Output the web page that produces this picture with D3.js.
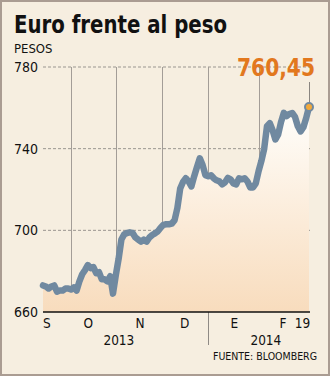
<!DOCTYPE html>
<html>
<head>
<meta charset="utf-8">
<script src="https://cdn.jsdelivr.net/npm/d3@7"></script>
<style>
  html, body { margin: 0; padding: 0; background: #f6eee0; }
  svg { display: block; }
  text { font-family: "DejaVu Sans Condensed", "Liberation Sans Narrow", "DejaVu Sans", sans-serif; }
</style>
</head>
<body>
<svg id="chart" width="330" height="376"></svg>
<script>
// Euro vs Mexican peso, daily close (pesos per euro)
const euroPeso = [
  673, 672.5, 671.5, 672.5, 673, 670, 670.5, 670.5, 671.5, 671.5,
  671, 672, 670.5, 675, 678.5, 680.5, 683, 681.5, 682, 679,
  679.5, 676, 676, 675, 677.5, 669, 678, 686, 695.5, 698,
  698.7, 699, 698.7, 696.5, 695.5, 694.5, 695.5, 694.5, 696.5, 697.7,
  698.5, 699.5, 701.3, 702.7, 703, 703, 703.3, 705, 711, 720.5,
  723.7, 725.5, 724, 721.5, 726.5, 731, 735.3, 732, 727, 726.5,
  727, 725.5, 724.5, 724, 722.5, 723.5, 725.7, 725, 723, 722.5,
  725.5, 725, 725.5, 724, 721, 721, 723, 729, 734, 740,
  751, 752.5, 749, 744.5, 747, 753, 757.5, 756, 757, 757.5,
  755.6, 751, 748.5, 750.5, 755, 760.45
];

// Session index where each month begins (Oct, Nov, Dec, Jan, Feb)
const monthStarts = [10, 26, 42.5, 59, 77.1];
// Month labels and the session index they sit over
const monthLabels = ["S", "O", "N", "D", "E", "F", "19"];
const monthLabelPos = [1.4, 16.2, 34.7, 50.6, 68.3, 85.7, 92.7];
// Year labels
const yearLabels = ["2013", "2014"];
const yearLabelPos = [27.1, 79.6];
const yearBreak = 59;

const yTicks = [660, 700, 740, 780];
const lastLabel = "760,45";

const svg = d3.select("#chart");
const W = 330, H = 376;

// frame
svg.append("rect")
  .attr("x", 1).attr("y", 1).attr("width", W - 2).attr("height", H - 2)
  .attr("fill", "#f6eee0").attr("stroke", "#aa9c92").attr("stroke-width", 2);

const x = d3.scaleLinear().domain([0, euroPeso.length - 1]).range([43, 309]);
const y = d3.scaleLinear().domain([660, 780]).range([312, 67]);

// title
svg.append("text")
  .attr("x", 14).attr("y", 33)
  .attr("font-size", 24).attr("font-weight", "bold").attr("fill", "#111")
  .attr("textLength", 213).attr("lengthAdjust", "spacingAndGlyphs")
  .text("Euro frente al peso");

svg.append("text")
  .attr("x", 14).attr("y", 53)
  .attr("font-size", 13).attr("fill", "#111")
  .text("PESOS");

// gradient for area
const defs = svg.append("defs");
const grad = defs.append("linearGradient")
  .attr("id", "areaFill").attr("gradientUnits", "userSpaceOnUse")
  .attr("x1", 0).attr("x2", 0).attr("y1", y(760)).attr("y2", y(660));
grad.append("stop").attr("offset", 0).attr("stop-color", "#fffefb");
grad.append("stop").attr("offset", 1).attr("stop-color", "#f8dcbd");

// horizontal dashed grid
svg.append("g").selectAll("line")
  .data(yTicks.filter(d => d !== 660))
  .join("line")
  .attr("x1", 43).attr("x2", 310)
  .attr("y1", d => y(d)).attr("y2", d => y(d))
  .attr("stroke", "#9a9690").attr("stroke-width", 1)
  .attr("stroke-dasharray", "3,2");

// month separators
svg.append("g").selectAll("line")
  .data(monthStarts)
  .join("line")
  .attr("x1", d => Math.round(x(d)) + 0.5).attr("x2", d => Math.round(x(d)) + 0.5)
  .attr("y1", y(780)).attr("y2", y(660))
  .attr("stroke", "#a39d97").attr("stroke-width", 1);

// area under the line
const area = d3.area()
  .x((d, i) => x(i))
  .y0(y(660))
  .y1(d => y(d));
svg.append("path").datum(euroPeso)
  .attr("d", area).attr("fill", "url(#areaFill)");

// year break line below axis
svg.append("line")
  .attr("x1", Math.round(x(yearBreak)) + 0.5).attr("x2", Math.round(x(yearBreak)) + 0.5)
  .attr("y1", y(660)).attr("y2", 345)
  .attr("stroke", "#8f8a85").attr("stroke-width", 1);

// data line
const line = d3.line()
  .x((d, i) => x(i))
  .y(d => y(d));
svg.append("path").datum(euroPeso)
  .attr("d", line).attr("fill", "none")
  .attr("stroke", "#7089a0").attr("stroke-width", 6.5)
  .attr("stroke-linejoin", "round").attr("stroke-linecap", "round");

// baseline
svg.append("line")
  .attr("x1", 43).attr("x2", 310)
  .attr("y1", y(660)).attr("y2", y(660))
  .attr("stroke", "#111").attr("stroke-width", 1.5);

// y tick labels
svg.append("g").selectAll("text")
  .data(yTicks)
  .join("text")
  .attr("x", 38).attr("y", d => y(d) + 5)
  .attr("text-anchor", "end").attr("font-size", 14).attr("fill", "#111")
  .text(d => d);

// month labels
svg.append("g").selectAll("text")
  .data(monthLabels)
  .join("text")
  .attr("x", (d, i) => x(monthLabelPos[i]))
  .attr("y", 328)
  .attr("text-anchor", "middle").attr("font-size", 13.5).attr("fill", "#111")
  .text(d => d);

// year labels
svg.append("g").selectAll("text")
  .data(yearLabels)
  .join("text")
  .attr("x", (d, i) => x(yearLabelPos[i]))
  .attr("y", 345)
  .attr("text-anchor", "middle").attr("font-size", 13.5).attr("fill", "#111")
  .text(d => d);

// source
svg.append("text")
  .attr("x", 317).attr("y", 360)
  .attr("text-anchor", "end").attr("font-size", 10.5).attr("fill", "#111")
  .text("FUENTE: BLOOMBERG");

// last value callout
const lastI = euroPeso.length - 1;
const lastV = euroPeso[lastI];
svg.append("line")
  .attr("x1", x(lastI) + 0.5).attr("x2", x(lastI) + 0.5)
  .attr("y1", 82).attr("y2", y(lastV))
  .attr("stroke", "#8a8580").attr("stroke-width", 1);
svg.append("circle")
  .attr("cx", x(lastI)).attr("cy", y(lastV)).attr("r", 4)
  .attr("fill", "#f2a93b").attr("stroke", "#7089a0").attr("stroke-width", 2);
svg.append("text")
  .attr("x", 315).attr("y", 76)
  .attr("text-anchor", "end").attr("font-size", 25).attr("font-weight", "bold")
  .attr("fill", "#e2781e")
  .attr("textLength", 78).attr("lengthAdjust", "spacingAndGlyphs")
  .text(lastLabel);
</script>
</body>
</html>
